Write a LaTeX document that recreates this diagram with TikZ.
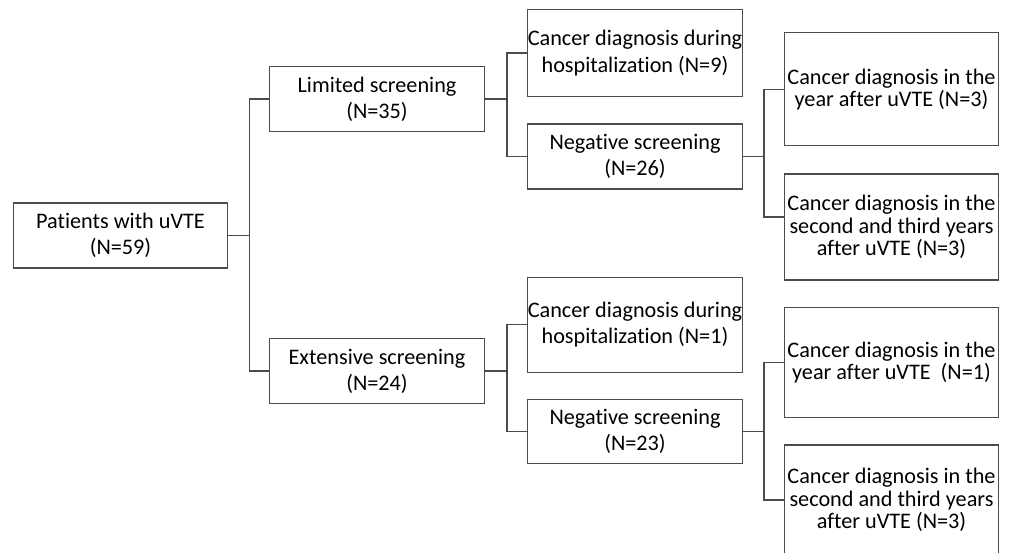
\documentclass[tikz,border=0pt]{standalone}
\usepackage{fontspec}
\setmainfont{Carlito}[Ligatures=NoCommon]
\usetikzlibrary{calc}

\begin{document}
\begin{tikzpicture}[x=0.025cm, y=-0.025cm,
    box/.style={draw=black!70, line width=0.9pt, fill=white, align=center,
        inner sep=0pt, minimum width=5.36cm, font=\fontsize{15.8}{15.8}\selectfont},
    loose/.style={font=\fontsize{15.8}{18.6}\selectfont},
    link/.style={draw=black!70, line width=0.9pt}]
    \clip (0,0) rectangle (1010,552);

    \node[box, loose, minimum height=1.625cm] (pat) at (120.5,235.5) {Patients with uVTE\\(N=59)};
    \node[box, loose, minimum height=1.625cm] (lim) at (377,99) {Limited screening\\(N=35)};
    \node[box, loose, minimum height=1.625cm] (ext) at (377,371) {Extensive screening\\(N=24)};

    \node[box, loose, minimum height=2.175cm] (dur1) at (635,53) {Cancer diagnosis during\\hospitalization (N=9)};
    \node[box, loose, minimum height=1.625cm] (neg1) at (635,156.5) {Negative screening\\(N=26)};
    \node[box, loose, minimum height=2.375cm] (dur2) at (635,324.7) {Cancer diagnosis during\\hospitalization (N=1)};
    \node[box, loose, minimum height=1.6cm] (neg2) at (635,431.3) {Negative screening\\(N=23)};

    \node[box, minimum height=2.825cm] (yr1) at (891.5,89.3) {Cancer diagnosis in the\\year after uVTE (N=3)};
    \node[box, minimum height=2.65cm] (sec1) at (891.5,227) {Cancer diagnosis in the\\second and third years\\after uVTE (N=3)};
    \node[box, minimum height=2.75cm] (yr2) at (891.5,362.3) {Cancer diagnosis in the\\year after uVTE\ \ (N=1)};
    \node[box, minimum height=2.75cm] (sec2) at (891.5,500) {Cancer diagnosis in the\\second and third years\\after uVTE (N=3)};

    \draw[link] (pat.east) -- ++(21,0) coordinate (hubP);
    \draw[link] (lim.west) -| (hubP) |- (ext.west);

    \draw[link] (lim.east) -- ++(22,0) coordinate (hubL);
    \draw[link] (dur1.west) -| (hubL) |- (neg1.west);
    \draw[link] (ext.east) -- ++(22,0) coordinate (hubE);
    \draw[link] (dur2.west) -| (hubE) |- (neg2.west);

    \draw[link] (neg1.east) -- ++(21,0) coordinate (hubN1);
    \draw[link] (yr1.west) -| (hubN1) |- ([yshift=0.25cm]sec1.west);
    \draw[link] (neg2.east) -- ++(21,0) coordinate (hubN2);
    \draw[link] (yr2.west) -| (hubN2) |- (sec2.west);
\end{tikzpicture}
\end{document}
